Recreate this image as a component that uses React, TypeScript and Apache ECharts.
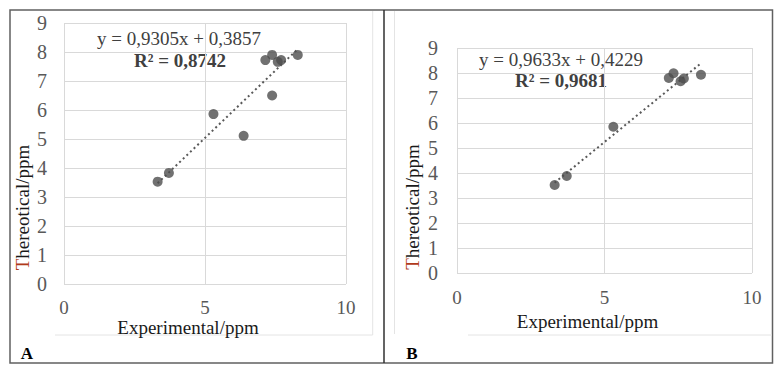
import React, { useEffect, useRef } from "react";
import * as echarts from "echarts";

const expA = [3.32, 3.72, 5.3, 6.37, 7.14, 7.38, 7.38, 7.58, 7.7, 8.29];
const theoA = [3.53, 3.83, 5.86, 5.11, 7.72, 7.9, 6.5, 7.66, 7.72, 7.9];
const expB = [3.31, 3.72, 5.3, 7.18, 7.34, 7.58, 7.69, 8.27];
const theoB = [3.52, 3.88, 5.85, 7.8, 7.99, 7.67, 7.78, 7.93];
const trendA = [0.9305, 0.3857];
const trendB = [0.9633, 0.4229];
const eqA = ["y = 0,9305x + 0,3857", "R² = 0,8742"];
const eqB = ["y = 0,9633x + 0,4229", "R² = 0,9681"];
const panelLabels = ["A", "B"];
const xName = "Experimental/ppm";
const yName = "{r|T}{n|hereotical/ppm}";

const FONT = "Liberation Serif, serif";

function trendPoints(xs: number[], coef: number[]) {
  const lo = Math.min(...xs);
  const hi = Math.max(...xs);
  return [
    [lo, coef[0] * lo + coef[1]],
    [hi, coef[0] * hi + coef[1]],
  ];
}

function axes(idx: number, yPad: number, yGap: number, xGap: number, xMargin: number, yMargin: number) {
  const x = {
    type: "value",
    gridIndex: idx,
    min: 0,
    max: 10,
    interval: 5,
    name: xName,
    nameLocation: "middle",
    nameGap: xGap,
    nameMoveOverlap: false,
    nameTextStyle: { fontFamily: FONT, fontSize: 19, lineHeight: 14, color: "#1a1a1a", padding: [0, 34, 0, 0] },
    axisLine: { show: false },
    axisTick: { show: false },
    axisLabel: { fontFamily: FONT, fontSize: 19, lineHeight: 16, color: "#595959", margin: xMargin },
    splitLine: { show: true, lineStyle: { color: "#d9d9d9", width: 1 } },
  };
  const y = {
    type: "value",
    gridIndex: idx,
    min: 0,
    max: 9,
    interval: 1,
    name: yName,
    nameLocation: "middle",
    nameGap: yGap,
    nameMoveOverlap: false,
    nameTextStyle: {
      fontFamily: FONT,
      fontSize: 19,
      color: "#1a1a1a",
      padding: [0, yPad, 0, 0],
      rich: {
        r: { fontFamily: FONT, fontSize: 19, color: "#b03a1a" },
        n: { fontFamily: FONT, fontSize: 19, color: "#1a1a1a" },
      },
    },
    axisLine: { show: false },
    axisTick: { show: false },
    axisLabel: { fontFamily: FONT, fontSize: 20, color: "#595959", margin: yMargin },
    splitLine: { show: true, lineStyle: { color: "#d9d9d9", width: 1 } },
  };
  return { x, y };
}

export default function App() {
  const ref = useRef<HTMLDivElement>(null);
  useEffect(() => {
    if (!ref.current) return;
    const chart = echarts.init(ref.current, null, { renderer: "svg" });
    const a = axes(0, 108, 32, 36, 15, 17);
    const b = axes(1, 93, 35, 41, 16, 19);
    const scatterStyle = { color: "#4d4d4d" };
    const trendStyle = { color: "#595959", width: 2, type: [2, 3] };
    const eqStyle = (t: string, x: number, y: number, bold: boolean) => ({
      type: "text",
      x,
      y,
      style: {
        text: t,
        fontFamily: FONT,
        fontSize: 19,
        fontWeight: bold ? "bold" : "normal",
        fill: "#404040",
        align: "center",
        verticalAlign: "middle",
      },
    });
    chart.setOption({
      animation: false,
      backgroundColor: "#ffffff",
      textStyle: { fontFamily: FONT },
      grid: [
        { left: 64, top: 23, width: 282, height: 261 },
        { left: 457, top: 48, width: 295, height: 225 },
      ],
      xAxis: [a.x, b.x],
      yAxis: [a.y, b.y],
      series: [
        {
          type: "line",
          xAxisIndex: 0,
          yAxisIndex: 0,
          data: trendPoints(expA, trendA),
          showSymbol: false,
          lineStyle: trendStyle,
          z: 2,
        },
        {
          type: "scatter",
          xAxisIndex: 0,
          yAxisIndex: 0,
          data: expA.map((v, i) => [v, theoA[i]]),
          symbolSize: 10,
          itemStyle: scatterStyle,
          z: 3,
        },
        {
          type: "line",
          xAxisIndex: 1,
          yAxisIndex: 1,
          data: trendPoints(expB, trendB),
          showSymbol: false,
          lineStyle: trendStyle,
          z: 2,
        },
        {
          type: "scatter",
          xAxisIndex: 1,
          yAxisIndex: 1,
          data: expB.map((v, i) => [v, theoB[i]]),
          symbolSize: 10,
          itemStyle: scatterStyle,
          z: 3,
        },
      ],
      graphic: [
        { type: "rect", shape: { x: 10, y: 10, width: 762.5, height: 353 }, style: { fill: "none", stroke: "#606060", lineWidth: 1.5 }, silent: true },
        { type: "line", shape: { x1: 384, y1: 10, x2: 384, y2: 363 }, style: { stroke: "#303030", lineWidth: 1.5 }, silent: true },
        { type: "line", shape: { x1: 372.7, y1: 11, x2: 372.7, y2: 335 }, style: { stroke: "#e4e4e4", lineWidth: 1 }, silent: true },
        { type: "line", shape: { x1: 55, y1: 335, x2: 372.7, y2: 335 }, style: { stroke: "#e4e4e4", lineWidth: 1 }, silent: true },
        { type: "line", shape: { x1: 394.5, y1: 11, x2: 394.5, y2: 334 }, style: { stroke: "#e4e4e4", lineWidth: 1 }, silent: true },
        { type: "line", shape: { x1: 468, y1: 335, x2: 772, y2: 335 }, style: { stroke: "#e4e4e4", lineWidth: 1 }, silent: true },
        eqStyle(eqA[0], 179, 38, false),
        eqStyle(eqA[1], 180, 60, true),
        eqStyle(eqB[0], 561, 59, false),
        eqStyle(eqB[1], 561, 80, true),
        {
          type: "text",
          x: 27,
          y: 353,
          style: { text: panelLabels[0], fontFamily: FONT, fontSize: 17, fontWeight: "bold", fill: "#000", align: "center", verticalAlign: "middle" },
        },
        {
          type: "text",
          x: 412,
          y: 353,
          style: { text: panelLabels[1], fontFamily: FONT, fontSize: 17, fontWeight: "bold", fill: "#000", align: "center", verticalAlign: "middle" },
        },
      ],
    });
    return () => chart.dispose();
  }, []);
  return (
    <div
      ref={ref}
      style={{ position: "fixed", left: 0, top: 0, width: 783, height: 374, background: "#fff" }}
    />
  );
}
